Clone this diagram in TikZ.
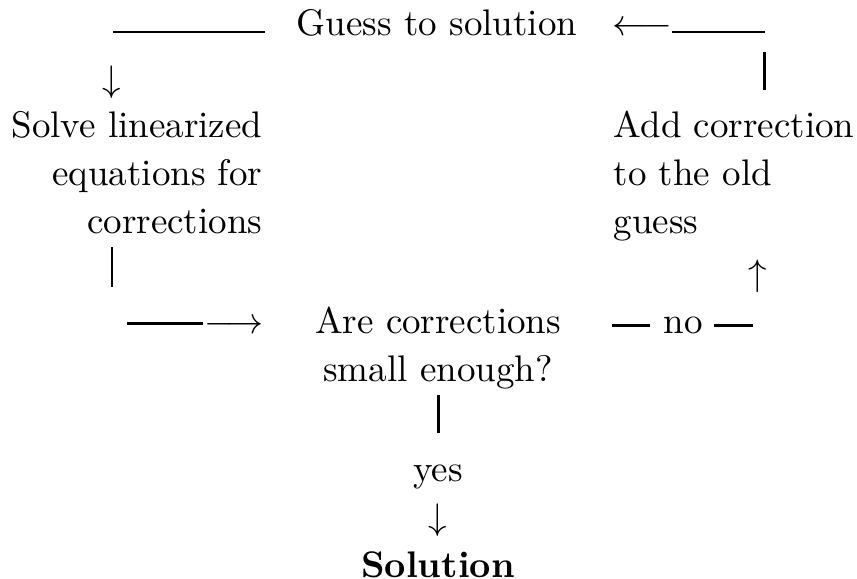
\documentclass[tikz,border=0pt]{standalone}
\begin{document}
\begin{tikzpicture}[x=1cm,y=1cm,
  rule/.style={line width=0.8pt},
  word/.style={anchor=base, inner sep=0pt, font=\fontsize{10}{13.1}\selectfont}]
\useasboundingbox (-4.152,0.342) rectangle (3.990,-5.159);

\node[word] (guess) at (0,0) {Guess to solution};
\node[word] (back) at (1.948,0) {$\longleftarrow$};
\node[word] (down1) at (-3.088,-0.523) {$\downarrow$};

\node[word, anchor=base east, align=right] (solve) at (-1.653,-1.881)
{Solve linearized\\equations for\\corrections};

\node[word, anchor=base west, align=left] (add) at (1.672,-1.881)
{Add correction\\to the old\\guess};

\node[word] (fwd) at (-1.929,-2.822) {$\longrightarrow$};
\node[word, align=center] (test) at (0.01,-3.287)
{Are corrections\\small enough?};
\node[word] (no) at (2.337,-2.822) {no};
\node[word] (up1) at (3.050,-2.375) {$\uparrow$};

\node[word] (yes) at (0.01,-4.237) {yes};
\node[word] (down2) at (0.01,-4.693) {$\downarrow$};
\node[word] (sol) at (0.01,-5.140) {\bfseries Solution};

\coordinate (t1) at (-3.078,0.038);
\coordinate (t2) at (-1.634,0.038);
\coordinate (t3) at (2.233,0.038);
\coordinate (t4) at (3.116,0.038);
\coordinate (r1) at (3.107,-0.152);
\coordinate (r2) at (3.107,-0.513);
\coordinate (l1) at (-3.088,-2.005);
\coordinate (l2) at (-3.088,-2.385);
\coordinate (f1) at (-2.945,-2.736);
\coordinate (n1) at (1.663,-2.755);
\coordinate (n2) at (2.024,-2.755);
\coordinate (n3) at (2.632,-2.755);
\coordinate (n4) at (3.002,-2.755);
\coordinate (c1) at (0.01,-3.411);
\coordinate (c2) at (0.01,-3.772);

\draw[rule] (t1) -- (t2);
\draw[rule] (t3) -- (t4);
\draw[rule] (r1) -- (r2);
\draw[rule] (l1) -- (l2);
\draw[rule] (f1) -- (f1 -| fwd.west);
\draw[rule] (n1) -- (n2);
\draw[rule] (n3) -- (n4);
\draw[rule] (c1) -- (c2);
\end{tikzpicture}
\end{document}
